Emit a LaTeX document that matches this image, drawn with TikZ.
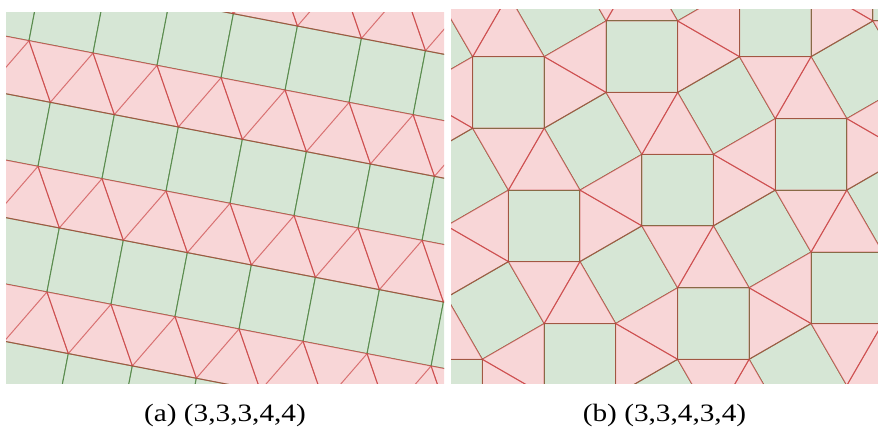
\documentclass[tikz,border=0pt]{standalone}
\usepackage{fontspec}
\setmainfont{Liberation Serif}
\definecolor{sqfill}{HTML}{D6E6D5}
\definecolor{trifill}{HTML}{F8D6D7}
\definecolor{sqline}{HTML}{5A8C4E}
\definecolor{triline}{HTML}{C83C3C}

\begin{document}
\begin{tikzpicture}[x=1pt, y=-1pt,
  square/.style={fill=sqfill, draw=sqline, line width=1pt, line join=round},
  triangle/.style={fill=trifill},
  triedge/.style={draw=triline, draw opacity=0.65, line width=1pt, line join=round},
  caption/.style={font=\fontsize{25}{29}\selectfont, inner sep=0pt, anchor=base},
]
  \useasboundingbox (0,0) rectangle (878,428);

  % (a) rows of squares and triangles
  \begin{scope}
    \clip (6,13) rectangle (444,383);
    \begin{scope}[shift={(29,40.7)}, rotate=-10.91]
      \foreach \k in {-1,...,3}
        \foreach \n in {-4,...,8} {
          \pgfmathsetmacro{\bx}{32.6*\k+65.2*\n}
          \pgfmathsetmacro{\by}{121.665*\k}
          \path[triangle] (\bx,\by) -- (\bx+65.2,\by) -- (\bx+32.6,\by+56.465) -- cycle
                          (\bx+32.6,\by+56.465) -- (\bx+97.8,\by+56.465) -- (\bx+65.2,\by) -- cycle;
          \path[square] (\bx+32.6,\by+56.465) -- (\bx+97.8,\by+56.465)
                        -- (\bx+97.8,\by+121.665) -- (\bx+32.6,\by+121.665) -- cycle;
        }
      \foreach \k in {-1,...,3}
        \foreach \n in {-4,...,8} {
          \pgfmathsetmacro{\bx}{32.6*\k+65.2*\n}
          \pgfmathsetmacro{\by}{121.665*\k}
          \path[triedge] (\bx,\by) -- (\bx+65.2,\by) -- (\bx+32.6,\by+56.465) -- cycle
                         (\bx+32.6,\by+56.465) -- (\bx+97.8,\by+56.465) -- (\bx+65.2,\by) -- cycle;
        }
    \end{scope}
  \end{scope}

  % (b) snub square
  \begin{scope}
    \clip (451,10) rectangle (878,383);
    \begin{scope}[shift={(472.7,56.7)}]
      \foreach \i in {-2,...,4}
        \foreach \j in {-2,...,4} {
          \pgfmathsetmacro{\ox}{133.42*\i+35.75*\j}
          \pgfmathsetmacro{\oy}{-35.75*\i+133.42*\j}
          \path[triangle] (\ox,\oy) -- (\ox+71.5,\oy) -- (\ox+35.75,\oy-61.92) -- cycle
                          (\ox+71.5,\oy) -- (\ox+71.5,\oy+71.5) -- (\ox+133.42,\oy+35.75) -- cycle
                          (\ox+71.5,\oy+71.5) -- (\ox,\oy+71.5) -- (\ox+35.75,\oy+133.42) -- cycle
                          (\ox,\oy+71.5) -- (\ox,\oy) -- (\ox-61.92,\oy+35.75) -- cycle;
          \path[square] (\ox,\oy) -- (\ox+71.5,\oy) -- (\ox+71.5,\oy+71.5) -- (\ox,\oy+71.5) -- cycle;
          \path[square] (\ox+71.5,\oy+71.5) -- (\ox+133.42,\oy+35.75)
                        -- (\ox+169.17,\oy+97.67) -- (\ox+107.25,\oy+133.42) -- cycle;
        }
      \foreach \i in {-2,...,4}
        \foreach \j in {-2,...,4} {
          \pgfmathsetmacro{\ox}{133.42*\i+35.75*\j}
          \pgfmathsetmacro{\oy}{-35.75*\i+133.42*\j}
          \path[triedge] (\ox,\oy) -- (\ox+71.5,\oy) -- (\ox+35.75,\oy-61.92) -- cycle
                         (\ox+71.5,\oy) -- (\ox+71.5,\oy+71.5) -- (\ox+133.42,\oy+35.75) -- cycle
                         (\ox+71.5,\oy+71.5) -- (\ox,\oy+71.5) -- (\ox+35.75,\oy+133.42) -- cycle
                         (\ox,\oy+71.5) -- (\ox,\oy) -- (\ox-61.92,\oy+35.75) -- cycle;
        }
    \end{scope}
  \end{scope}

  \node[caption] (capA) at (225,421.5) {\scalebox{1.17}[1]{(a) (3,3,3,4,4)}};
  \node[caption] (capB) at (664.5,421.5) {\scalebox{1.17}[1]{(b) (3,3,4,3,4)}};
\end{tikzpicture}
\end{document}
